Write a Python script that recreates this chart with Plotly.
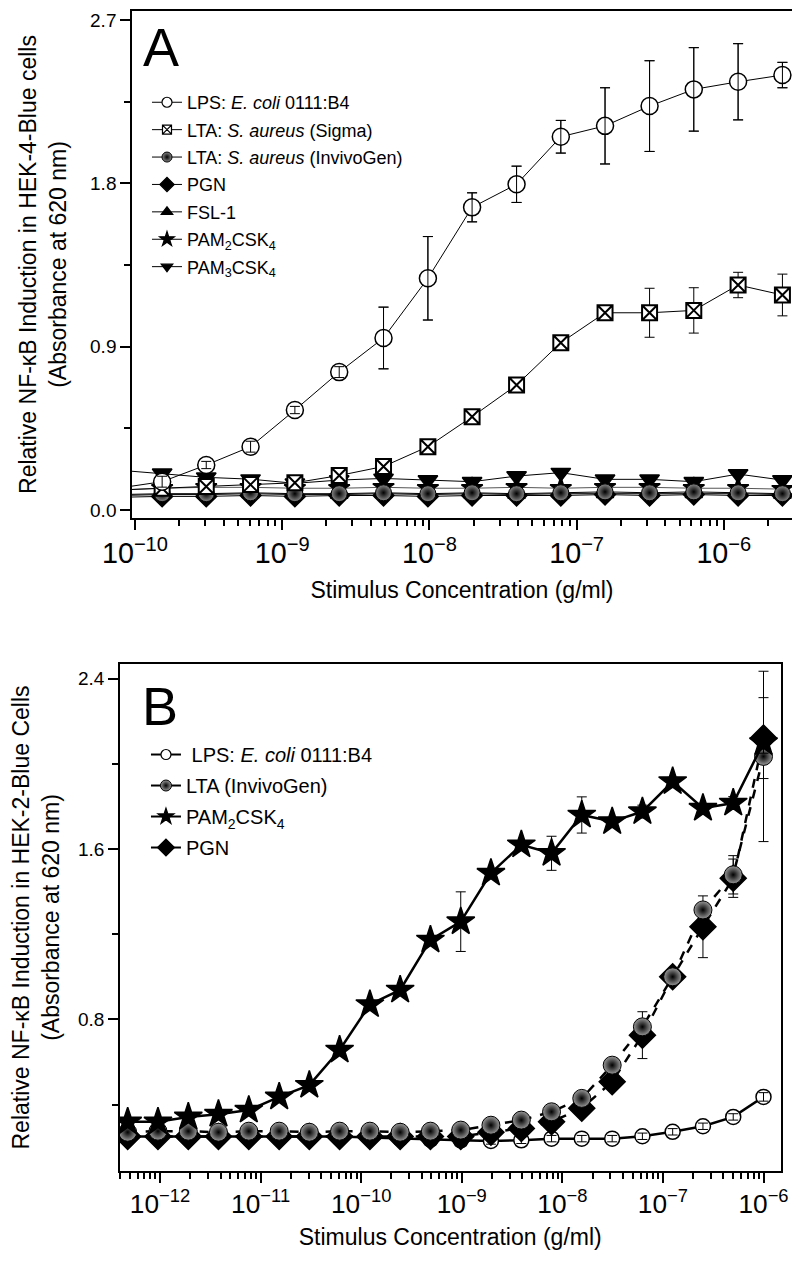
import plotly.graph_objects as go

# ---------------- Panel A data (HEK-4-Blue) ----------------
conc_A = [7.63e-11, 1.53e-10, 3.05e-10, 6.10e-10, 1.22e-9, 2.44e-9, 4.88e-9, 9.77e-9,
          1.95e-8, 3.91e-8, 7.81e-8, 1.56e-7, 3.13e-7, 6.25e-7, 1.25e-6, 2.5e-6]
lps_A = [0.12, 0.156, 0.248, 0.349, 0.551, 0.76, 0.948, 1.277, 1.668, 1.795, 2.057, 2.117,
         2.226, 2.318, 2.36, 2.397]
lps_A_err = [0.01, 0.03, 0.02, 0.03, 0.02, 0.03, 0.17, 0.23, 0.08, 0.10, 0.09, 0.21,
             0.25, 0.23, 0.21, 0.07]
lta_sigma_A = [0.11, 0.12, 0.13, 0.14, 0.15, 0.19, 0.24, 0.349, 0.514, 0.689, 0.922, 1.087,
               1.087, 1.10, 1.24, 1.185]
lta_sigma_A_err = [0.01, 0.01, 0.01, 0.01, 0.01, 0.02, 0.03, 0.03, 0.03, 0.04, 0.03, 0.02,
                   0.135, 0.125, 0.07, 0.115]
lta_inv_A = [0.085, 0.09, 0.09, 0.095, 0.09, 0.09, 0.095, 0.09, 0.095, 0.09, 0.095, 0.10,
             0.095, 0.10, 0.095, 0.09]
pgn_A = [0.07, 0.075, 0.075, 0.08, 0.075, 0.08, 0.08, 0.075, 0.08, 0.08, 0.08, 0.085,
         0.08, 0.085, 0.08, 0.08]
fsl_A = [0.08, 0.085, 0.085, 0.09, 0.085, 0.085, 0.09, 0.085, 0.09, 0.085, 0.09, 0.09,
         0.09, 0.09, 0.09, 0.085]
pam2_A = [0.11, 0.12, 0.125, 0.125, 0.12, 0.12, 0.125, 0.12, 0.12, 0.125, 0.12, 0.125,
          0.125, 0.12, 0.12, 0.115]
pam3_A = [0.22, 0.202, 0.18, 0.17, 0.147, 0.165, 0.174, 0.165, 0.156, 0.187, 0.206, 0.169,
          0.169, 0.156, 0.198, 0.165]

# ---------------- Panel B data (HEK-2-Blue) ----------------
conc_B = [4.77e-13, 9.54e-13, 1.91e-12, 3.81e-12, 7.63e-12, 1.53e-11, 3.05e-11, 6.10e-11,
          1.22e-10, 2.44e-10, 4.88e-10, 9.77e-10, 1.95e-9, 3.91e-9, 7.81e-9, 1.56e-8,
          3.13e-8, 6.25e-8, 1.25e-7, 2.5e-7, 5e-7, 1e-6]
lps_B = [0.25, 0.25, 0.25, 0.25, 0.25, 0.25, 0.25, 0.25, 0.245, 0.24, 0.235, 0.232,
         0.229, 0.232, 0.24, 0.24, 0.24, 0.251, 0.272, 0.298, 0.342, 0.436]
lps_B_err = [0.01] * 12 + [0.015, 0.015, 0.015, 0.015, 0.015, 0.015, 0.015, 0.015, 0.015, 0.02]
lta_B = [0.27, 0.275, 0.275, 0.27, 0.275, 0.275, 0.27, 0.275, 0.275, 0.27, 0.275,
         0.28, 0.303, 0.327, 0.366, 0.429, 0.585, 0.765, 1.0, 1.314, 1.479, 2.035]
lta_B_err = [0.01] * 17 + [0.02, 0.03, 0.03, 0.09, 0.40]
pam2_B = [0.319, 0.319, 0.342, 0.355, 0.374, 0.436, 0.491, 0.656, 0.87, 0.938, 1.173,
          1.259, 1.487, 1.62, 1.58, 1.76, 1.729, 1.776, 1.917, 1.792, 1.816, 2.10]
pam2_B_err = [0.01, 0.01, 0.01, 0.01, 0.01, 0.015, 0.015, 0.02, 0.02, 0.02, 0.02,
              0.14, 0.02, 0.02, 0.08, 0.085, 0.02, 0.03, 0.02, 0.02, 0.03, 0.05]
pgn_B = [0.25, 0.25, 0.25, 0.25, 0.25, 0.25, 0.25, 0.25, 0.25, 0.25, 0.25, 0.25,
         0.27, 0.288, 0.319, 0.383, 0.507, 0.726, 1.0, 1.235, 1.463, 2.121]
pgn_B_err = [0.01] * 17 + [0.11, 0.02, 0.145, 0.09, 0.19]

FONT = "Liberation Sans, Arial, sans-serif"
fig = go.Figure()


def marker_of(symbol, size, fill, mline, gradient):
    m = dict(symbol=symbol, size=size, color=fill, line=dict(color="black", width=mline))
    if gradient:
        m["gradient"] = dict(type="radial", color=gradient)
    return m


def add(x, y, name, symbol, size, fill, line_w, dash, legend, xa, ya, rank, err=None,
        mline=1.5, gradient=None, lcolor="black", leg_size=10, leg_line=1,
        err_on_top=False):
    tr = dict(x=x, y=y, name=name, mode="lines+markers",
              marker=marker_of(symbol, size, fill, mline, gradient),
              line=dict(color=lcolor, width=line_w, dash=dash),
              xaxis=xa, yaxis=ya, showlegend=False, legendgroup=name + legend)
    ebar = None
    if err is not None:
        ebar = dict(type="data", array=err, visible=True, color="black",
                    thickness=1, width=5)
        tr["error_y"] = ebar
    fig.add_trace(go.Scatter(**tr))
    if err_on_top:
        fig.add_trace(go.Scatter(x=x, y=y, mode="markers", marker=dict(size=1, opacity=0),
                                 error_y=ebar, xaxis=xa, yaxis=ya, showlegend=False,
                                 hoverinfo="skip"))
    # legend-only entry with a small symbol, like the original legend
    fig.add_trace(go.Scatter(x=[None], y=[None], name=name, mode="lines+markers",
                             marker=marker_of(symbol, leg_size, fill, min(mline, 1.2), gradient),
                             line=dict(color="black", width=leg_line), legend=legend,
                             legendrank=rank, xaxis=xa, yaxis=ya,
                             legendgroup=name + legend))


# Panel A traces
add(conc_A, pam3_A, "PAM<sub>3</sub>CSK<sub>4</sub>", "triangle-down", 17, "black", 1, "solid",
    "legend", "x", "y", 7)
add(conc_A, pam2_A, "PAM<sub>2</sub>CSK<sub>4</sub>", "star", 16, "black", 1, "solid",
    "legend", "x", "y", 6, lcolor="#555", leg_size=11)
add(conc_A, fsl_A, "FSL-1", "triangle-up", 15, "black", 1, "solid", "legend", "x", "y", 5)
add(conc_A, pgn_A, "PGN", "diamond", 16, "black", 1, "solid", "legend", "x", "y", 4, leg_size=11)
add(conc_A, lta_inv_A, "LTA: <i>S. aureus</i> (InvivoGen)", "circle", 16, "#888", 1, "solid",
    "legend", "x", "y", 3, gradient="black", mline=1)
add(conc_A, lta_sigma_A, "LTA: <i>S. aureus</i> (Sigma)", "square-x", 15, "white", 1, "solid",
    "legend", "x", "y", 2, err=lta_sigma_A_err, mline=2, leg_size=9)
add(conc_A, lps_A, "LPS: <i>E. coli</i> 0111:B4", "circle", 17, "white", 1, "solid",
    "legend", "x", "y", 1, err=lps_A_err, mline=1.5, err_on_top=True)

# Panel B traces
add(conc_B, lps_B, " LPS: <i>E. coli</i> 0111:B4", "circle", 15, "white", 2.5, "solid",
    "legend2", "x2", "y2", 1, err=lps_B_err, mline=1.5, err_on_top=True, leg_line=2)
add(conc_B, pgn_B, "PGN", "diamond", 20, "black", 2.5, "dash", "legend2", "x2", "y2", 4,
    err=pgn_B_err, leg_size=13, leg_line=2)
add(conc_B, lta_B, "LTA (InvivoGen)", "circle", 18, "#999", 2.5, "dash", "legend2", "x2", "y2", 2,
    err=lta_B_err, gradient="black", mline=1, leg_size=11, leg_line=2)
add(conc_B, pam2_B, "PAM<sub>2</sub>CSK<sub>4</sub>", "star", 21, "black", 2.5, "solid",
    "legend2", "x2", "y2", 3, err=pam2_B_err, leg_size=12, leg_line=2)

axis_common = dict(showline=True, linecolor="black", linewidth=1.5, mirror=True,
                   ticks="outside", tickcolor="black", tickwidth=1.5, showgrid=False,
                   zeroline=False, automargin=False,
                   tickfont=dict(family=FONT, size=19, color="black"))

# The page body adds an 8 px offset, so the figure is 792 x 1255.
fig.update_layout(
    width=792, height=1255, margin=dict(l=0, r=0, t=0, b=0),
    paper_bgcolor="white", plot_bgcolor="white", font=dict(family=FONT, color="black"),
    xaxis=dict(axis_common, type="log", domain=[0.15657, 0.9899], range=[-10.02, -5.537],
               dtick=1, exponentformat="power", ticklen=10,
               tickfont=dict(family=FONT, size=23, color="black"),
               minor=dict(ticks="outside", ticklen=6, tickcolor="black", tickwidth=1.5),
               title=dict(text="Stimulus Concentration (g/ml)",
                          font=dict(family=FONT, size=23), standoff=14), anchor="y"),
    yaxis=dict(axis_common, domain=[0.59363, 0.99761], range=[-0.044, 2.75], tick0=0, dtick=0.9,
               tickformat=".1f", ticklen=10,
               minor=dict(ticks="outside", ticklen=6, dtick=0.45, tickcolor="black",
                          tickwidth=1.5),
               title=dict(text="Relative NF-\u03baB Induction in HEK-4-Blue cells<br>(Absorbance at 620 nm)",
                          font=dict(family=FONT, size=23), standoff=17), anchor="x"),
    xaxis2=dict(axis_common, type="log", domain=[0.14141, 0.97538], range=[-12.398, -5.831],
                dtick=1, exponentformat="power", ticklen=10,
                tickfont=dict(family=FONT, size=21, color="black"),
                minor=dict(ticks="outside", ticklen=6, tickcolor="black", tickwidth=1.5),
                title=dict(text="Stimulus Concentration (g/ml)",
                           font=dict(family=FONT, size=23), standoff=11), anchor="y2"),
    yaxis2=dict(axis_common, domain=[0.07331, 0.47729], range=[0.088, 2.469], tick0=0, dtick=0.8,
                tickformat=".1f", ticklen=10,
                minor=dict(ticks="outside", ticklen=6, dtick=0.4, tickcolor="black",
                           tickwidth=1.5),
                title=dict(text="Relative NF-\u03baB Induction in HEK-2-Blue Cells<br>(Absorbance at 620 nm)",
                           font=dict(family=FONT, size=23), standoff=17), anchor="x2"),
    legend=dict(x=0.1755, y=0.9394, xanchor="left", yanchor="top", bgcolor="rgba(0,0,0,0)",
                font=dict(family=FONT, size=18), tracegroupgap=1, itemwidth=30),
    legend2=dict(x=0.1742, y=0.4207, xanchor="left", yanchor="top", bgcolor="rgba(0,0,0,0)",
                 font=dict(family=FONT, size=20), tracegroupgap=2, itemwidth=30),
    annotations=[
        dict(text="A", x=0.168, y=0.9944, xref="paper", yref="paper", xanchor="left",
             yanchor="top", showarrow=False, font=dict(family=FONT, size=54)),
        dict(text="B", x=0.1667, y=0.4693, xref="paper", yref="paper", xanchor="left",
             yanchor="top", showarrow=False, font=dict(family=FONT, size=54)),
    ],
)

fig.write_html("out.html")
